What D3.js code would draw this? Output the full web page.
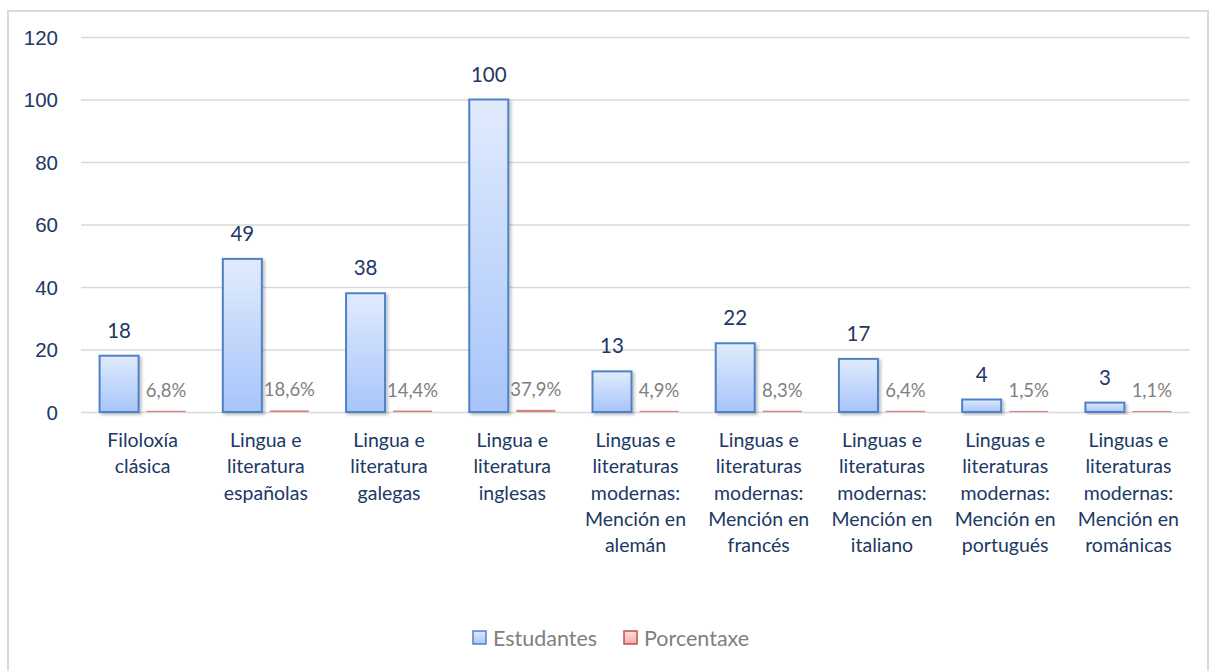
<!DOCTYPE html>
<html>
<head>
<meta charset="utf-8">
<script src="https://cdn.jsdelivr.net/npm/d3@7"></script>
<style>
  body { margin: 0; background: #fff; }
  svg { display: block; font-family: Lato, "Open Sans", sans-serif; }
</style>
</head>
<body>
<div id="chart"></div>
<script>
// Data
const categories = [
  ['Filoloxía', 'clásica'],
  ['Lingua e', 'literatura', 'españolas'],
  ['Lingua e', 'literatura', 'galegas'],
  ['Lingua e', 'literatura', 'inglesas'],
  ['Linguas e', 'literaturas', 'modernas:', 'Mención en', 'alemán'],
  ['Linguas e', 'literaturas', 'modernas:', 'Mención en', 'francés'],
  ['Linguas e', 'literaturas', 'modernas:', 'Mención en', 'italiano'],
  ['Linguas e', 'literaturas', 'modernas:', 'Mención en', 'portugués'],
  ['Linguas e', 'literaturas', 'modernas:', 'Mención en', 'románicas']
]
const estudantes = [18, 49, 38, 100, 13, 22, 17, 4, 3]
const porcentaxe = [0.068, 0.186, 0.144, 0.379, 0.049, 0.083, 0.064, 0.015, 0.011]
const porcentaxeLabels = ['6,8%', '18,6%', '14,4%', '37,9%', '4,9%', '8,3%', '6,4%', '1,5%', '1,1%']
const seriesNames = ['Estudantes', 'Porcentaxe']
const yTicks = [0, 20, 40, 60, 80, 100, 120]

// Canvas
const width = 1210,
  height = 671
const plot = { left: 81, right: 1190, top: 37, bottom: 412 }
const navy = '#203864',
  grey = '#7f7f7f'

const svg = d3.select('#chart')
  .append('svg')
  .attr('width', width)
  .attr('height', height)

const defs = svg.append('defs')
const gBlue = defs.append('linearGradient').attr('id', 'gBlue')
  .attr('x1', 0).attr('y1', 0).attr('x2', 0).attr('y2', 1)
gBlue.append('stop').attr('offset', '0%').attr('stop-color', '#e1ebfd')
gBlue.append('stop').attr('offset', '100%').attr('stop-color', '#a7c5fa')
const gRed = defs.append('linearGradient').attr('id', 'gRed')
  .attr('x1', 0).attr('y1', 0).attr('x2', 0).attr('y2', 1)
gRed.append('stop').attr('offset', '0%').attr('stop-color', '#fde1e1')
gRed.append('stop').attr('offset', '100%').attr('stop-color', '#f7a9a8')
const shadow = defs.append('filter').attr('id', 'shadow')
  .attr('x', '-20%').attr('y', '-20%').attr('width', '150%').attr('height', '150%')
shadow.append('feDropShadow').attr('dx', 2).attr('dy', 2).attr('stdDeviation', 1.5)
  .attr('flood-color', '#000').attr('flood-opacity', 0.25)

// Frame
svg.append('rect')
  .attr('x', 8).attr('y', 11)
  .attr('width', 1200).attr('height', 670)
  .attr('fill', 'none')
  .attr('stroke', '#d9d9d9')
  .attr('stroke-width', 2)

// Scales
const x = d3.scaleBand()
  .domain(d3.range(categories.length))
  .range([plot.left, plot.right])

const y = d3.scaleLinear()
  .domain([0, 120])
  .range([plot.bottom, plot.top])

const yPct = d3.scaleLinear()
  .domain([0, 120])
  .range([plot.bottom, plot.top])

const barW = 39,
  innerGap = 8
const groupW = barW * 2 + innerGap

// Grid + y axis
const yAxis = d3.axisLeft(y)
  .tickValues(yTicks)
  .tickSize(-(plot.right - plot.left))
  .tickPadding(23)

const gy = svg.append('g')
  .attr('transform', `translate(${plot.left},0)`)
  .call(yAxis)
gy.select('.domain').remove()
gy.selectAll('.tick line').attr('stroke', '#d9d9d9').attr('stroke-width', 1.3)
gy.selectAll('.tick text')
  .attr('fill', navy)
  .style('font-size', '20.5px')
  .attr('dy', '0.35em')

// Estudantes bars
svg.append('g').selectAll('rect')
  .data(estudantes)
  .enter()
  .append('rect')
  .attr('x', (d, i) => x(i) + (x.bandwidth() - groupW) / 2)
  .attr('y', d => y(d))
  .attr('width', barW)
  .attr('height', d => y(0) - y(d))
  .attr('fill', 'url(#gBlue)')
  .attr('stroke', '#4f81c7')
  .attr('stroke-width', 2)
  .attr('filter', 'url(#shadow)')

// Porcentaxe bars (values are fractions, so they sit on the zero line)
svg.append('g').selectAll('rect')
  .data(porcentaxe)
  .enter()
  .append('rect')
  .attr('x', (d, i) => x(i) + (x.bandwidth() - groupW) / 2 + barW + innerGap)
  .attr('y', d => yPct(d) - 1)
  .attr('width', barW)
  .attr('height', d => Math.max(yPct(0) - yPct(d), 0) + 1)
  .attr('fill', '#d9807d')

// Value labels
svg.append('g').selectAll('text')
  .data(estudantes)
  .enter()
  .append('text')
  .attr('x', (d, i) => x(i) + (x.bandwidth() - groupW) / 2 + barW / 2)
  .attr('y', d => y(d) - 18)
  .attr('text-anchor', 'middle')
  .attr('fill', navy)
  .style('font-size', '20.5px')
  .text(d => d)

svg.append('g').selectAll('text')
  .data(porcentaxe)
  .enter()
  .append('text')
  .attr('x', (d, i) => x(i) + (x.bandwidth() - groupW) / 2 + barW + innerGap + barW / 2)
  .attr('y', d => yPct(d) - 15)
  .attr('text-anchor', 'middle')
  .attr('fill', grey)
  .style('font-size', '18.5px')
  .text((d, i) => porcentaxeLabels[i])

// Category labels
const cat = svg.append('g').selectAll('text')
  .data(categories)
  .enter()
  .append('text')
  .attr('x', (d, i) => x(i) + x.bandwidth() / 2)
  .attr('y', 447)
  .attr('text-anchor', 'middle')
  .attr('fill', navy)
  .style('font-size', '19.5px')
cat.selectAll('tspan')
  .data((d, i) => d.map(t => ({ t, cx: x(i) + x.bandwidth() / 2 })))
  .enter()
  .append('tspan')
  .attr('x', d => d.cx)
  .attr('dy', (d, j) => j === 0 ? 0 : 26.3)
  .text(d => d.t)

// Legend
const legendX = [473, 624]
const legend = svg.append('g').selectAll('g')
  .data(seriesNames)
  .enter()
  .append('g')
  .attr('transform', (d, i) => `translate(${legendX[i]},631)`)
legend.append('rect')
  .attr('width', 13).attr('height', 13)
  .attr('fill', (d, i) => i === 0 ? 'url(#gBlue)' : 'url(#gRed)')
  .attr('stroke', (d, i) => i === 0 ? '#4f81c7' : '#c0504d')
  .attr('stroke-width', 1.5)
legend.append('text')
  .attr('x', 20).attr('y', 15)
  .attr('fill', grey)
  .style('font-size', '21.5px')
  .text(d => d)
</script>
</body>
</html>
